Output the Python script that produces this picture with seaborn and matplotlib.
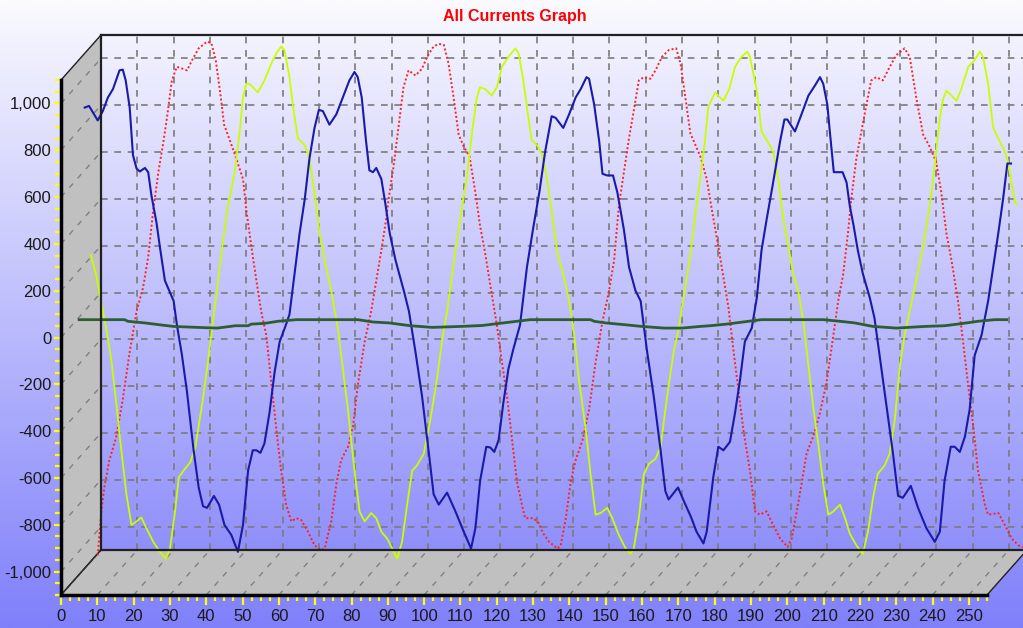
import numpy as np
import matplotlib
matplotlib.use("Agg")
import matplotlib.pyplot as plt
from matplotlib.patches import Polygon
from matplotlib.ticker import MultipleLocator, FuncFormatter
import seaborn as sns

# values read against the back grid of the chart
blue_x = [-4.5, -3.3, -0.9, 0.5, 1.9, 3.3, 5.1, 6.0, 6.8, 7.9, 8.8, 9.8, 10.7, 12.1, 13.0, 13.9, 15.3, 16.2, 17.6, 20.0,
          20.9, 22.3, 23.7, 25.5, 26.9, 28.1, 29.2, 31.1, 32.5, 34.0, 35.9, 37.7, 39.1, 40.5, 41.8, 42.8, 43.9, 45.0, 46.4, 47.8,
          49.2, 50.6, 51.9, 53.3, 54.7, 56.1, 57.4, 58.8, 60.0, 61.1, 62.9, 64.8, 66.6, 68.4, 69.8, 70.7, 71.8, 73.0, 73.9, 74.9,
          75.8, 77.2, 78.3, 79.5, 81.1, 83.4, 84.8, 86.6, 88.4, 90.3, 91.6, 93.0, 95.3, 97.6, 99.9, 101.9, 103.1, 104.4, 106.1, 107.2,
          108.3, 109.5, 110.8, 112.2, 113.6, 115.4, 117.3, 119.1, 120.7, 122.3, 124.1, 125.2, 127.3, 128.9, 130.7, 132.1, 133.7, 134.4, 135.8, 137.2,
          138.1, 139.4, 141.0, 142.2, 144.0, 145.4, 147.2, 148.6, 150.4, 152.2, 154.1, 155.4, 156.3, 158.9, 160.5, 162.5, 164.0, 165.9, 166.8, 168.6,
          170.0, 171.4, 173.2, 174.6, 176.0, 177.3, 179.2, 180.6, 181.9, 183.3, 185.1, 187.0, 188.2, 189.0, 191.1, 192.9, 194.8, 196.6, 198.0, 198.9,
          200.0, 200.7, 201.8, 203.0, 204.2, 205.3, 206.2, 207.2, 208.4, 209.8, 211.7, 213.0, 214.4, 216.3, 218.1, 219.5, 220.8, 223.0, 225.0, 227.3,
          229.6, 231.0, 232.3, 234.0, 235.1, 236.5, 237.9, 239.2, 240.6, 242.5, 244.3, 245.7, 247.1, 248.4, 249.6, 250.6]
blue_y = [790, 797, 735, 775, 833, 869, 949, 952, 906, 790, 587, 529, 517, 532, 514, 413, 297, 196, 51, -36,
          -138, -268, -427, -674, -833, -913, -920, -869, -906, -993, -1036, -1108, -993, -761, -674, -674, -685, -645, -514, -341,
          -210, -152, -94, 80, 254, 398, 572, 703, 780, 775, 717, 761, 833, 906, 942, 920, 833, 645, 522, 514,
          532, 485, 380, 254, 138, 7, -80, -254, -442, -688, -862, -906, -855, -935, -1022, -1094, -1007, -804, -659, -662,
          -681, -630, -471, -326, -239, -138, 109, 283, 427, 601, 753, 746, 703, 761, 833, 869, 920, 913, 804, 645,
          507, 500, 500, 427, 268, 109, 7, -36, -254, -442, -674, -848, -884, -833, -891, -960, -1022, -1072, -1022, -790,
          -659, -674, -638, -514, -370, -210, -152, -22, 181, 312, 471, 645, 739, 739, 688, 761, 841, 884, 920, 891,
          804, 688, 514, 514, 514, 471, 370, 290, 181, 80, -22, -109, -268, -485, -688, -869, -877, -826, -920, -1007,
          -1065, -1022, -804, -659, -659, -681, -616, -500, -268, -181, -36, 109, 254, 398, 551, 551]

yellow_x = [-2.8, -1.4, 0.0, 1.4, 2.8, 4.2, 5.6, 7.0, 8.4, 9.8, 11.1, 12.5, 14.4, 16.2, 17.9, 19.0, 20.4, 21.4, 22.7, 24.6,
            26.0, 27.9, 29.2, 30.6, 32.0, 33.4, 34.8, 36.8, 38.2, 39.1, 40.0, 40.9, 43.2, 45.0, 46.9, 48.3, 49.6, 50.5, 51.9, 52.8,
            54.2, 56.1, 57.4, 58.8, 60.2, 61.6, 63.4, 65.2, 66.6, 68.0, 69.8, 71.2, 72.6, 74.4, 75.8, 77.2, 78.8, 80.2, 81.6, 82.9,
            84.3, 85.7, 87.0, 88.9, 90.7, 92.5, 93.9, 95.3, 97.1, 98.9, 100.8, 102.2, 103.5, 104.4, 105.8, 107.6, 109.0, 110.4, 112.2, 114.1,
            115.0, 116.3, 117.7, 118.6, 120.2, 121.4, 122.5, 123.9, 125.7, 127.5, 128.9, 130.3, 131.6, 133.5, 134.8, 136.2, 137.6, 139.4, 140.8, 142.6,
            144.5, 145.8, 146.7, 148.1, 149.5, 150.9, 152.7, 154.1, 155.9, 157.7, 159.1, 160.9, 162.3, 163.7, 165.0, 166.3, 167.2, 169.1, 171.4, 173.0,
            174.6, 176.4, 178.0, 178.7, 180.6, 181.9, 183.8, 185.1, 186.5, 187.9, 189.3, 190.6, 192.0, 193.4, 194.8, 196.1, 197.5, 198.9, 200.3, 201.7,
            203.5, 204.9, 206.2, 208.0, 209.8, 211.2, 212.6, 213.9, 215.8, 217.2, 218.6, 219.9, 221.3, 222.7, 224.5, 226.4, 228.2, 229.6, 231.0, 231.9,
            232.8, 234.2, 235.6, 236.9, 238.8, 240.6, 242.0, 242.9, 244.3, 245.7, 247.1, 248.9, 249.8, 250.7, 251.7, 252.4]
yellow_y = [159, 80, -36, -152, -283, -471, -674, -862, -993, -978, -961, -1007, -1065, -1108, -1137, -1094, -935, -790, -761, -725,
            -659, -471, -326, -152, 22, 196, 355, 514, 688, 833, 891, 891, 855, 906, 978, 1022, 1051, 1036, 920, 804,
            659, 630, 572, 427, 254, 138, 7, -152, -326, -500, -761, -935, -978, -942, -964, -1022, -1051, -1094, -1137, -1065,
            -906, -761, -739, -688, -543, -370, -210, -80, 123, 312, 500, 688, 833, 877, 869, 841, 877, 964, 1007, 1043,
            1022, 906, 746, 652, 627, 590, 514, 370, 167, 65, -36, -181, -370, -587, -775, -949, -942, -920, -964, -1036,
            -1094, -1116, -1094, -964, -775, -732, -710, -659, -442, -254, -152, 22, 160, 340, 485, 645, 790, 855, 819, 869,
            964, 1007, 1029, 1007, 862, 688, 638, 601, 485, 312, 196, 80, 7, -123, -312, -485, -645, -819, -949, -935,
            -906, -964, -1030, -1080, -1116, -1022, -877, -775, -739, -688, -543, -326, -181, -80, 51, 196, 370, 543, 746, 826,
            862, 841, 819, 869, 964, 993, 1029, 1007, 891, 703, 659, 601, 558, 471, 384, 377]

red_x = [-0.9, 0.0, 0.9, 2.3, 4.2, 6.0, 7.9, 9.8, 11.6, 13.0, 14.4, 15.8, 17.2, 18.3, 19.5, 20.9, 22.3, 23.7, 25.1, 26.9,
         29.2, 30.4, 31.6, 33.0, 33.9, 35.6, 37.3, 39.1, 40.0, 41.4, 42.8, 44.1, 45.5, 46.9, 48.3, 49.6, 51.0, 52.4, 53.8, 55.1,
         57.0, 58.8, 60.6, 61.6, 63.4, 64.8, 66.1, 68.0, 69.4, 70.7, 72.6, 74.4, 75.8, 77.2, 78.4, 79.3, 80.6, 82.0, 83.3, 84.7,
         86.6, 88.4, 89.8, 91.6, 93.0, 94.4, 95.7, 97.1, 98.5, 99.9, 101.5, 103.1, 104.4, 105.8, 107.6, 109.0, 110.4, 111.8, 113.1, 114.5,
         115.9, 116.8, 119.1, 120.5, 121.8, 123.4, 125.7, 126.6, 128.0, 129.4, 130.7, 132.6, 134.4, 136.2, 138.1, 139.9, 141.3, 142.6, 144.0, 145.4,
         146.7, 148.1, 149.5, 151.3, 152.7, 154.5, 156.4, 158.4, 159.6, 160.9, 162.3, 163.7, 165.2, 166.8, 168.2, 170.0, 171.4, 172.8, 174.1, 175.5,
         176.9, 178.7, 180.1, 181.4, 183.3, 185.1, 187.0, 189.1, 190.2, 191.6, 192.9, 194.3, 196.1, 198.0, 199.8, 201.7, 203.0, 204.4, 205.7, 206.6,
         208.0, 209.4, 210.8, 212.1, 213.5, 215.3, 217.2, 219.0, 221.3, 222.7, 224.5, 226.4, 228.2, 230.0, 231.4, 232.8, 234.2, 236.0, 237.4, 238.8,
         240.2, 241.5, 243.4, 244.3, 247.1, 248.9, 250.8, 252.6, 253.9]
red_y = [-1123, -949, -833, -717, -616, -456, -254, -80, 22, 152, 355, 514, 645, 761, 906, 964, 957, 949, 993, 1043,
         1072, 1065, 993, 833, 717, 645, 570, 485, 355, 196, 51, -80, -181, -384, -587, -761, -906, -978, -964, -971,
         -1022, -1080, -1101, -1094, -978, -819, -717, -659, -572, -398, -210, -80, 51, 180, 300, 410, 543, 717, 877, 949,
         927, 956, 1007, 1051, 1062, 1058, 978, 833, 674, 623, 580, 427, 283, 167, -7, -138, -297, -442, -616, -804,
         -906, -964, -964, -985, -1030, -1065, -1094, -1080, -964, -804, -717, -630, -500, -297, -123, 7, 138, 370, 514, 659,
         775, 906, 920, 913, 949, 1007, 1036, 1043, 978, 833, 680, 630, 575, 485, 355, 196, 65, -65, -239, -413,
         -587, -761, -935, -949, -935, -993, -1051, -1087, -1051, -935, -819, -688, -616, -514, -384, -181, -36, 80, 254, 398,
         572, 688, 804, 906, 920, 906, 964, 1014, 1043, 1007, 833, 674, 623, 558, 427, 254, 138, -36, -210, -398,
         -572, -761, -906, -949, -942, -993, -1051, -1080, -1087]

green_x = [-6.0, 6.5, 7.4, 12.1, 16.2, 20.0, 26.5, 32.0, 37.0, 40.5, 41.4, 45.0, 48.7, 53.8, 70.7, 74.9, 79.4, 85.2, 91.2, 99.0,
           104.9, 114.5, 118.2, 134.8, 135.8, 139.0, 144.5, 149.0, 155.0, 160.0, 165.0, 167.7, 172.3, 178.3, 181.9, 198.9, 203.5, 207.6, 212.6, 219.0,
           226.8, 232.3, 236.9, 241.5, 246.1, 249.4]
green_y = [-116, -116, -123, -130, -138, -145, -149, -152, -142, -142, -135, -132, -123, -116, -116, -126, -130, -142, -149, -145,
           -141, -123, -116, -116, -123, -130, -138, -145, -152, -152, -145, -142, -135, -123, -116, -116, -123, -130, -145, -152,
           -145, -142, -133, -123, -116, -116]

W, H = 1023, 628
XMIN, XMAX = 0, 255
YMIN, YMAX = -1100, 1100
BL, BT = 101, 35           # back plane top-left, px
BW = 926                   # back plane width, px
BH = 515                   # back plane height, px
DX, DY = 40, 45            # depth offset back -> front, px


def rect(left, top, w, h):
    return [left / W, 1 - (top + h) / H, w / W, h / H]


fig = plt.figure(figsize=(W / 100, H / 100), dpi=100)

# gradient background
bg = fig.add_axes([0, 0, 1, 1], zorder=0)
t = np.linspace(0, 1, 256)[:, None, None]
c_top = np.array([250, 250, 255]) / 255
c_bot = np.array([128, 128, 250]) / 255
bg.imshow(c_top + (c_bot - c_top) * t, aspect='auto', extent=[0, 1, 0, 1])
bg.axis('off')

# wall and floor
deco = fig.add_axes([0, 0, 1, 1], zorder=1)
deco.set_xlim(0, W)
deco.set_ylim(H, 0)
deco.axis('off')
deco.patch.set_alpha(0)
BB = BT + BH
wall = Polygon([(BL - DX, BT + DY), (BL, BT), (BL, BB), (BL - DX, BB + DY)],
               facecolor='#c0c0c0', edgecolor='#202020', lw=1)
floor = Polygon([(BL - DX, BB + DY), (BL, BB), (BL + BW, BB), (BL + BW - DX, BB + DY)],
                facecolor='#c0c0c0', edgecolor='#202020', lw=1)
deco.add_patch(wall)
deco.add_patch(floor)
for v in range(-1000, 1001, 200):
    yb = BT + (YMAX - v) * BH / (YMAX - YMIN)
    deco.plot([BL - DX, BL], [yb + DY, yb], color='#808080', lw=1, ls=(0, (4, 5)))
for v in range(10, 251, 10):
    xb = BL + v * BW / (XMAX - XMIN)
    deco.plot([xb - DX, xb], [BB + DY, BB], color='#808080', lw=1, ls=(0, (4, 5)))
deco.plot([BL - DX, BL], [BB + DY, BB], color='#303030', lw=1, ls=(0, (4, 2)))

# back plane with the data
ax = fig.add_axes(rect(BL, BT, BW, BH), zorder=2)
ax.patch.set_alpha(0)
ax.set_xlim(XMIN, XMAX)
ax.set_ylim(YMIN, YMAX)
ax.set_xticks(range(10, 251, 10))
ax.set_yticks(range(-1000, 1001, 200))
ax.tick_params(length=0, labelbottom=False, labelleft=False)
ax.grid(True, color='#7a7a7a', lw=1.2, ls=(0, (4, 4)))
ax.set_axisbelow(True)
for s in ['top', 'left', 'bottom']:
    ax.spines[s].set_color('#202020')
    ax.spines[s].set_linewidth(1.6)
ax.spines['right'].set_visible(False)

sns.lineplot(x=red_x, y=red_y, ax=ax, color='#ff2020', linewidth=1.4,
             linestyle=(0, (1, 1.2)), estimator=None, clip_on=False)
sns.lineplot(x=yellow_x, y=yellow_y, ax=ax, color='#c8ff00', linewidth=1.3,
             estimator=None, clip_on=False)
sns.lineplot(x=blue_x, y=blue_y, ax=ax, color='#1a1aa8', linewidth=1.5,
             estimator=None, clip_on=False)
sns.lineplot(x=green_x, y=green_y, ax=ax, color='#2e5e30', linewidth=2.0,
             estimator=None, clip_on=False)
ax.set_xlabel('')
ax.set_ylabel('')

# front axes carrying the labels
fr = fig.add_axes(rect(BL - DX, BT + DY, BW, BH), zorder=3)
fr.patch.set_alpha(0)
fr.set_xlim(XMIN, XMAX)
fr.set_ylim(YMIN, YMAX)
fr.spines['top'].set_visible(False)
fr.spines['right'].set_visible(False)
for s in ['left', 'bottom']:
    fr.spines[s].set_color('black')
    fr.spines[s].set_linewidth(2.5)
fr.xaxis.set_major_locator(MultipleLocator(10))
fr.xaxis.set_minor_locator(MultipleLocator(2.5))
fr.yaxis.set_major_locator(MultipleLocator(200))
fr.yaxis.set_minor_locator(MultipleLocator(50))
fr.yaxis.set_major_formatter(FuncFormatter(lambda v, p: f"{int(round(v)):,}"))
fr.xaxis.set_major_formatter(FuncFormatter(lambda v, p: f"{int(round(v))}"))
fr.tick_params(which='both', color='#ffff00', width=1.6, direction='out')
fr.tick_params(axis='x', which='major', length=7, pad=3)
fr.tick_params(axis='x', which='minor', length=4)
fr.tick_params(axis='y', which='major', length=5, pad=2)
fr.tick_params(axis='y', which='minor', length=4)
for lab in fr.get_xticklabels() + fr.get_yticklabels():
    lab.set_fontfamily(['Liberation Sans', 'DejaVu Sans'])
    lab.set_fontsize(12)
    lab.set_color('#1a1a1a')

fig.text(515 / W, 1 - 17 / H, 'All Currents Graph', color='#ff0000', fontsize=11.5,
         fontweight='bold', ha='center', va='center',
         family=['Liberation Sans Narrow', 'Liberation Sans', 'DejaVu Sans'])

fig.savefig('out.png', dpi=100)
